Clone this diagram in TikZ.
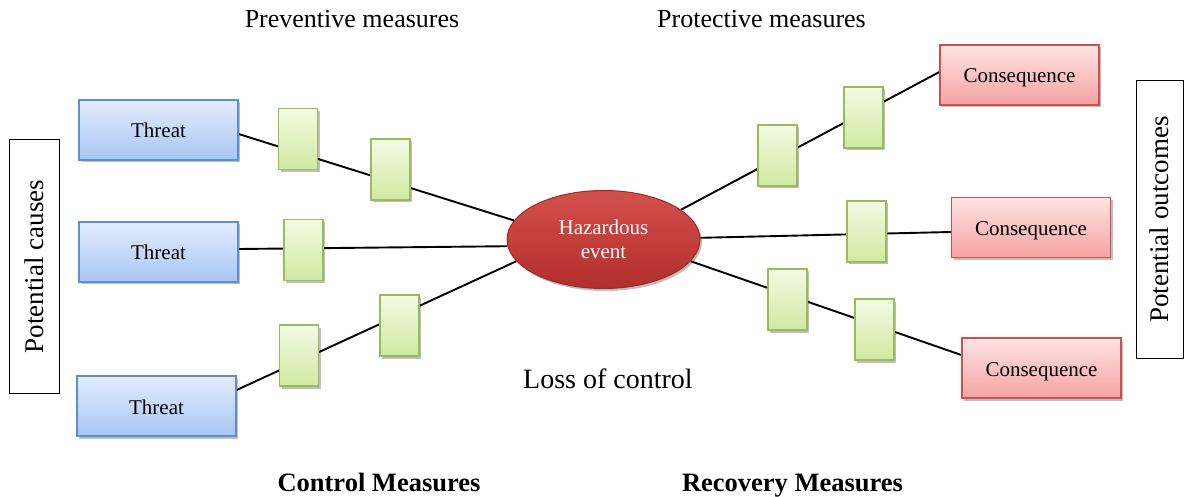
\documentclass[tikz,border=0pt]{standalone}
\usepackage{fontspec}
\setmainfont{Liberation Serif}
\usetikzlibrary{shapes.geometric,shadows,backgrounds}

\definecolor{threatline}{HTML}{5B8ED6}
\definecolor{threattop}{HTML}{E2ECFC}
\definecolor{threatbot}{HTML}{A9C6F4}
\definecolor{consline}{HTML}{C9514F}
\definecolor{constop}{HTML}{FEE3E3}
\definecolor{consbot}{HTML}{F5A3A2}
\definecolor{barline}{HTML}{9BBB59}
\definecolor{bartop}{HTML}{F3FAE4}
\definecolor{barbot}{HTML}{D0E9A2}
\definecolor{eventtop}{HTML}{D4504C}
\definecolor{eventbot}{HTML}{B02E2C}
\definecolor{eventline}{HTML}{A02826}

\tikzset{
  softshadow/.style={drop shadow={shadow xshift=2pt,shadow yshift=-2.5pt,opacity=0.25,fill=black}},
  boxtext/.style={font=\fontsize{21}{24}\selectfont,text height=18pt,text depth=2pt},
  threatbox/.style={draw=threatline,line width=1.3pt,top color=threattop,bottom color=threatbot,
    minimum width=159pt,minimum height=60pt,inner sep=0pt,softshadow,boxtext},
  consbox/.style={draw=consline,line width=1.3pt,top color=constop,bottom color=consbot,
    minimum width=159pt,minimum height=60pt,inner sep=0pt,softshadow,boxtext},
  barrier/.style={draw=barline,line width=1.3pt,top color=bartop,bottom color=barbot,
    minimum width=39pt,minimum height=61pt,inner sep=0pt,softshadow},
  eventnode/.style={ellipse,draw=eventline,line width=1pt,top color=eventtop,bottom color=eventbot,
    minimum width=193pt,minimum height=98pt,inner sep=0pt,text=white,align=center,
    font=\fontsize{21}{24}\selectfont,softshadow},
  heading/.style={inner sep=0pt,anchor=base,font=\fontsize{26}{30}\selectfont},
  boldheading/.style={inner sep=0pt,anchor=base,font=\fontsize{26.5}{30}\selectfont\bfseries},
  sidebox/.style={draw,line width=1pt,inner sep=0pt},
  sidetext/.style={rotate=90,inner sep=0pt,font=\fontsize{27}{30}\selectfont},
  link/.style={line width=1.9pt,black}
}

\begin{document}
\begin{tikzpicture}[x=1pt,y=-1pt]
\useasboundingbox (0,0) rectangle (1184,497);

% headings
\node[heading] (prev) at (352,28) {Preventive measures};
\node[heading] (prot) at (761.5,28) {Protective measures};
\node[inner sep=0pt,anchor=base,font=\fontsize{28}{30}\selectfont] (loss) at (608,388) {Loss of control};
\node[boldheading] (ctrl) at (379,491) {Control Measures};
\node[boldheading] (recv) at (792.5,491) {Recovery Measures};

% side frames
\node[sidebox,minimum width=50pt,minimum height=253pt] (causes) at (34,266.5) {};
\node[sidetext] at (causes.center) {Potential causes};
\node[sidebox,minimum width=47pt,minimum height=277pt] (outcomes) at (1159.5,219.5) {};
\node[sidetext] at (outcomes.center) {Potential outcomes};

% threats
\node[threatbox] (t1) at (158.5,130) {Threat};
\node[threatbox] (t2) at (158.5,252) {Threat};
\node[threatbox] (t3) at (156.5,406) {Threat};

% central event
\node[eventnode] (ev) at (603.5,239.5) {Hazardous\\event};

% consequences
\node[consbox] (c1) at (1019.5,75) {Consequence};
\node[consbox] (c2) at (1031,227.5) {Consequence};
\node[consbox] (c3) at (1041.5,368) {Consequence};

% barriers
\node[barrier] (g1) at (298,139) {};
\node[barrier] (g2) at (390.5,169.5) {};
\node[barrier] (g3) at (303.5,250) {};
\node[barrier] (g4) at (299,355.5) {};
\node[barrier] (g5) at (399.5,325.5) {};
\node[barrier] (g6) at (777.5,155.5) {};
\node[barrier] (g7) at (863.5,117.5) {};
\node[barrier] (g8) at (866.5,231.5) {};
\node[barrier] (g9) at (787.5,299.5) {};
\node[barrier] (g10) at (874.5,329.5) {};

% connectors behind the boxes
\begin{scope}[on background layer]
  \draw[link] ([yshift=-4pt]t1.east) -- (ev.168.6);
  \draw[link] ([yshift=3pt]t2.east) -- (ev.184);
  \draw[link] ([yshift=16pt]t3.east) -- (ev.194.5);
  \draw[link] (ev.21.3) -- ([yshift=3pt]c1.west);
  \draw[link] (ev.1.8) -- ([yshift=-4.5pt]c2.west);
  \draw[link] (ev.346) -- ([yshift=13pt]c3.west);
\end{scope}
\end{tikzpicture}
\end{document}
